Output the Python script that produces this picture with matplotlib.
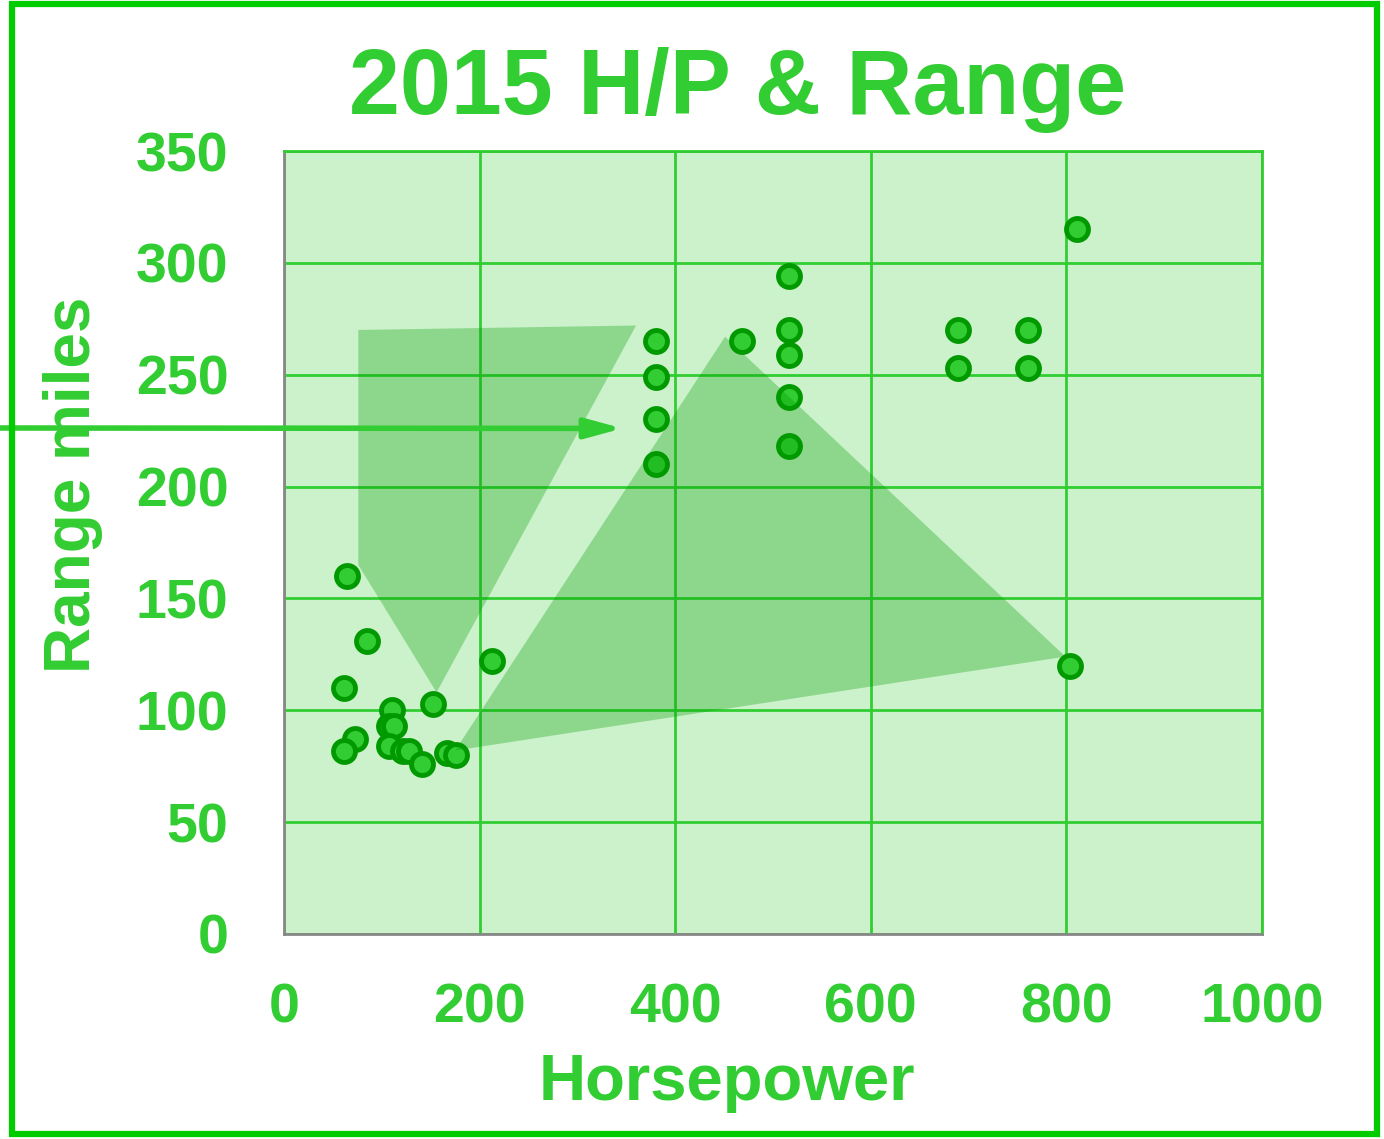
import matplotlib.pyplot as plt
from matplotlib.patches import Polygon, Rectangle

# horsepower / range values
hp = [811, 516, 516, 516, 516, 516, 380, 380, 380, 380, 468, 689, 689, 761, 761,
      804, 213, 64, 85, 61, 152, 110, 107, 112, 73, 61, 107, 122, 128, 141, 167, 176]
rng = [315, 294, 270, 259, 240, 218, 265, 249, 230, 210, 265, 270, 253, 270, 253,
       120, 122, 160, 131, 110, 103, 100, 93, 93, 87, 82, 84, 82, 82, 76, 81, 80]

# annotation shapes (data coords)
shape1_x = [76, 360, 156, 76]
shape1_y = [270, 272, 108, 165]
shape2_x = [451, 799, 175]
shape2_y = [267, 124, 82]
arrow_tip = (346, 226)

green = '#32cd32'
dark = '#009900'
W, H = 1384, 1139

plt.rcParams['font.family'] = 'Liberation Sans'

fig = plt.figure(figsize=(13.84, 11.39), dpi=100)
ax = fig.add_axes([284 / W, 1 - 934 / H, 978 / W, 783 / H])
ax.set_facecolor((50/255, 205/255, 50/255, 0.25))

ax.scatter(hp, rng, s=250, color=green, edgecolors=dark, linewidths=3.5, zorder=3)

ax.add_patch(Polygon(list(zip(shape1_x, shape1_y)), closed=True,
                     facecolor=dark, alpha=0.3, edgecolor='none', zorder=4))
ax.add_patch(Polygon(list(zip(shape2_x, shape2_y)), closed=True,
                     facecolor=dark, alpha=0.3, edgecolor='none', zorder=4))

ax.set_xlim(0, 1000)
ax.set_ylim(0, 350)
ax.set_xticks(range(0, 1001, 200))
ax.set_yticks(range(0, 351, 50))
ax.grid(True, color=green, linewidth=2)
ax.set_axisbelow(True)
for s in ['top', 'right']:
    ax.spines[s].set_color(green)
    ax.spines[s].set_linewidth(2)
for s in ['left', 'bottom']:
    ax.spines[s].set_color('#888888')
    ax.spines[s].set_linewidth(2)
ax.tick_params(length=0, labelcolor=green, labelsize=40)
ax.tick_params(axis='y', pad=40)
ax.tick_params(axis='x', pad=35)
for lab in ax.get_xticklabels() + ax.get_yticklabels():
    lab.set_fontweight('bold')

fig.text(738 / W, 1 - 114 / H, '2015 H/P & Range', fontsize=66, fontweight='bold',
         color=green, ha='center', va='baseline')
fig.text(727 / W, 1 - 1100 / H, 'Horsepower', fontsize=47, fontweight='bold',
         color=green, ha='center', va='baseline')
fig.text(73 / W, 1 - 485 / H, 'Range miles', fontsize=46, fontweight='bold',
         color=green, ha='center', va='center', rotation=90)

ax.annotate('', xy=arrow_tip, xycoords='data', xytext=(0, 1 - 428 / H),
            textcoords='figure fraction',
            arrowprops=dict(arrowstyle='-|>,head_length=2.2,head_width=0.6',
                            color=green, lw=4, shrinkA=0, shrinkB=0), zorder=6)

fig.patches.append(Rectangle((12 / W, 5 / H), 1365 / W, 1130 / H,
                             transform=fig.transFigure, fill=False,
                             edgecolor='#00cc00', linewidth=4.5))

fig.savefig('out.png', dpi=100)
